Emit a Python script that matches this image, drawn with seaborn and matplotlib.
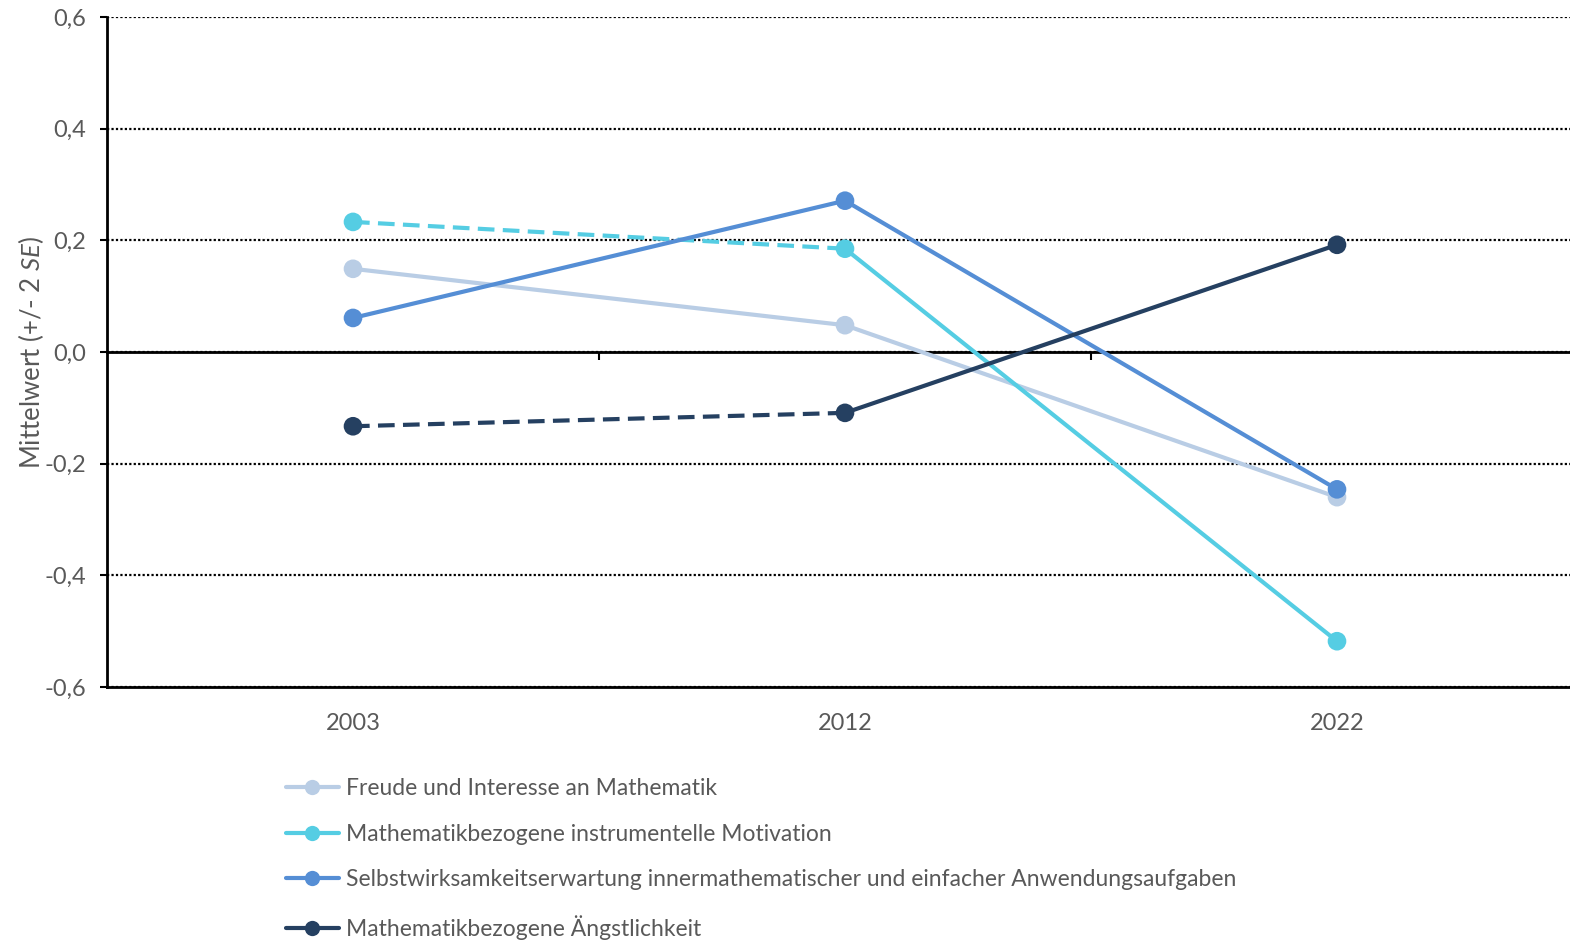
import matplotlib
matplotlib.use("Agg")
import matplotlib.pyplot as plt
import seaborn as sns
import pandas as pd
from matplotlib.lines import Line2D
from matplotlib.ticker import FuncFormatter, FixedLocator

# --- data -------------------------------------------------------------
years = ["2003", "2012", "2022"]
series = [
    "Freude und Interesse an Mathematik",
    "Mathematikbezogene instrumentelle Motivation",
    "Selbstwirksamkeitserwartung innermathematischer und einfacher Anwendungsaufgaben",
    "Mathematikbezogene Ängstlichkeit",
]
freude = [0.149, 0.048, -0.260]
motivation = [0.233, 0.185, -0.518]
selbstwirksamkeit = [0.061, 0.271, -0.246]
angst = [-0.133, -0.109, 0.192]
values = [freude, motivation, selbstwirksamkeit, angst]
# first segment (2003 -> 2012) drawn dashed for these scales
dashed_first = [False, True, False, True]
colors = ["#B9CDE5", "#55CDE3", "#558ED5", "#254061"]

# --- tidy frames ------------------------------------------------------
points = pd.DataFrame(
    [(s, y, v) for s, vals in zip(series, values) for y, v in zip(years, vals)],
    columns=["Skala", "Jahr", "Wert"],
)
seg_rows = []
for s, vals, dash in zip(series, values, dashed_first):
    for k in range(len(years) - 1):
        seg_id = f"{s}-{k}"
        style = "gestrichelt" if (k == 0 and dash) else "durchgezogen"
        for j in (k, k + 1):
            seg_rows.append((s, years[j], vals[j], seg_id, style))
segments = pd.DataFrame(seg_rows, columns=["Skala", "Jahr", "Wert", "Segment", "Linie"])

# --- style ------------------------------------------------------------
sns.set_theme(style="white")
plt.rcParams["font.family"] = ["Lato", "DejaVu Sans"]
plt.rcParams["mathtext.fontset"] = "custom"
plt.rcParams["mathtext.it"] = "Lato:italic"
plt.rcParams["mathtext.rm"] = "Lato"
text_color = "#595959"

fig = plt.figure(figsize=(15.7, 9.4), dpi=100)
ax = fig.add_axes([107 / 1570, 253 / 940, 1476 / 1570, 670 / 940])

palette = dict(zip(series, colors))
sns.lineplot(
    data=segments, x="Jahr", y="Wert", hue="Skala", style="Linie",
    units="Segment", estimator=None, palette=palette,
    dashes={"durchgezogen": "", "gestrichelt": (4, 2)},
    linewidth=3, sort=False, legend=False, ax=ax, zorder=3,
)
sns.scatterplot(
    data=points, x="Jahr", y="Wert", hue="Skala", palette=palette,
    s=180, linewidth=0, legend=False, ax=ax, zorder=4,
)

# --- axes -------------------------------------------------------------
ax.set_xlim(-0.5, 2.5)
ax.set_ylim(-0.6, 0.6)
ax.set_yticks([-0.6, -0.4, -0.2, 0.0, 0.2, 0.4, 0.6])
ax.yaxis.set_major_formatter(FuncFormatter(lambda v, _: f"{v:.1f}".replace(".", ",")))
ax.yaxis.grid(True, linestyle=(0, (1, 1)), color="black", linewidth=1.6)
ax.set_axisbelow(True)

for side in ("top", "right"):
    ax.spines[side].set_visible(False)
ax.spines["left"].set_color("black")
ax.spines["left"].set_linewidth(2)
# horizontal axis crosses at zero, with category separators
ax.spines["bottom"].set_position(("data", 0))
ax.spines["bottom"].set_color("black")
ax.spines["bottom"].set_linewidth(2)
ax.xaxis.set_major_locator(FixedLocator([0.5, 1.5]))
ax.set_xticklabels([])
ax.tick_params(axis="x", direction="out", length=6, width=1.5, color="black", bottom=True)
ax.tick_params(axis="y", direction="out", length=5, width=1.5, color="black", left=True,
               labelsize=17, labelcolor=text_color, pad=10)
ax.set_xlabel("")
ax.set_ylabel(r"Mittelwert (+/- 2 $\it{SE}$)", fontsize=18.5, color=text_color, labelpad=-1)

# year labels along the lower frame
sec = ax.secondary_xaxis("bottom")
sec.set_xticks([0, 1, 2], labels=years)
sec.tick_params(length=0, pad=18.5, labelsize=17, labelcolor=text_color)
sec.spines["bottom"].set_color("black")
sec.spines["bottom"].set_linewidth(2)

# --- legend -----------------------------------------------------------
handles = [
    Line2D([0], [0], color=c, linewidth=3, marker="o", markersize=11, markeredgewidth=0)
    for c in colors
]
fig.legend(
    handles, series, loc="upper left", bbox_to_anchor=(286 / 1570, 1 - 778 / 940),
    frameon=False, fontsize=16.5, labelcolor=text_color, handlelength=2.3,
    handletextpad=0.3, labelspacing=1.08, borderpad=0, borderaxespad=0,
)

fig.savefig("out.png", dpi=100)
